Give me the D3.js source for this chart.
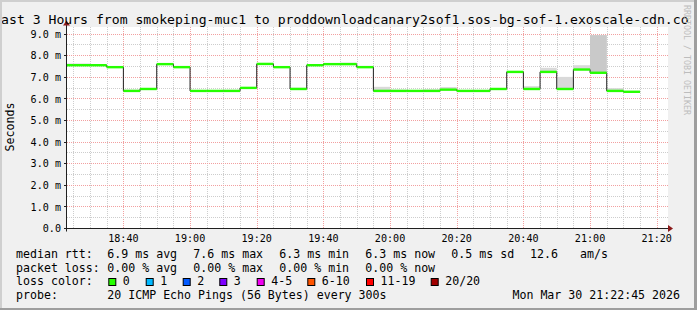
<!DOCTYPE html>
<html>
<head>
<meta charset="utf-8">
<script src="https://cdn.jsdelivr.net/npm/d3@7"></script>
<style>
  html, body { margin: 0; padding: 0; background: #f0f0f0; }
  svg { display: block; }
  text { font-family: "DejaVu Sans Mono", monospace; }
</style>
</head>
<body>
<svg id="chart"></svg>
<script>
// interval end times (5 min steps), median rtt in ms, smoke bands in ms
var endTimes = ["18:25","18:30","18:35","18:40","18:45","18:50","18:55","19:00",
    "19:05","19:10","19:15","19:20","19:25","19:30","19:35","19:40","19:45","19:50",
    "19:55","20:00","20:05","20:10","20:15","20:20","20:25","20:30","20:35","20:40",
    "20:45","20:50","20:55","21:00","21:05","21:10","21:15"];
var median = [7.56,7.56,7.56,7.47,6.37,6.46,7.61,7.47,6.37,6.37,6.37,6.51,7.62,7.47,
    6.46,7.56,7.61,7.61,7.47,6.37,6.37,6.37,6.37,6.43,6.37,6.37,6.46,7.25,6.46,7.25,
    6.46,7.36,7.21,6.37,6.33];
var smokeHi = [7.64,7.64,7.56,7.47,6.43,6.46,7.61,7.53,6.37,6.37,6.42,6.51,7.62,7.47,
    6.52,7.56,7.61,7.68,7.53,6.56,6.43,6.37,6.44,6.55,6.37,6.37,6.46,7.25,6.59,7.44,
    7.02,7.56,8.95,6.50,6.33];
var smokeMid = [7.56,7.56,7.56,7.47,6.37,6.46,7.61,7.47,6.37,6.37,6.37,6.51,7.62,7.47,
    6.46,7.56,7.61,7.61,7.47,6.37,6.37,6.37,6.37,6.43,6.37,6.37,6.46,7.25,6.46,7.25,
    6.46,7.36,8.95,6.37,6.33];

var yTicks = [0,1,2,3,4,5,6,7,8,9];
var yTickLabels = ["0.0","1.0 m","2.0 m","3.0 m","4.0 m","5.0 m","6.0 m","7.0 m","8.0 m","9.0 m"];
var xTickLabels = ["18:40","19:00","19:20","19:40","20:00","20:20","20:40","21:00","21:20"];

var title = "Last 3 Hours from smokeping-muc1 to proddownloadcanary2sof1.sos-bg-sof-1.exoscale-cdn.com";
var rttStats = ["6.9 ms avg","7.6 ms max","6.3 ms min","6.3 ms now","0.5 ms sd","12.6","am/s"];
var lossStats = ["0.00 % avg","0.00 % max","0.00 % min","0.00 % now"];
var lossLabels = ["0","1","2","3","4-5","6-10","11-19","20/20"];
var lossColors = ["#26ff00","#00b8ff","#0059ff","#7e00ff","#f000f0","#ff5500","#ff0000","#a10000"];
var probeText = "20 ICMP Echo Pings (56 Bytes) every 300s";
var stamp = "Mon Mar 30 21:22:45 2026";

var W = 697, H = 310,
    pLeft = 67, pRight = 667, pTop = 28.5, pBottom = 228.5;

var parse = d3.timeParse("%Y-%m-%d %H:%M:%S"),
    hm = (s) => parse("2026-03-30 " + s + ":00");

var x = d3.scaleTime()
    .domain([parse("2026-03-30 18:23:05"), parse("2026-03-30 21:23:05")])
    .range([pLeft, pRight]);
var y = d3.scaleLinear().domain([0, 9.26]).range([pBottom, pTop]);

var svg = d3.select("#chart").attr("width", W).attr("height", H);
var defs = svg.append("defs");

// background
svg.append("rect").attr("width", W).attr("height", H).attr("fill", "#f0f0f0");

// canvas
svg.append("rect")
    .attr("x", pLeft).attr("y", pTop - 1.5)
    .attr("width", pRight - pLeft + 1).attr("height", pBottom - pTop + 1.5)
    .attr("fill", "#ffffff");

defs.append("clipPath").attr("id", "plot")
    .append("rect").attr("x", pLeft).attr("y", pTop - 2)
    .attr("width", pRight - pLeft + 1).attr("height", pBottom - pTop + 2);
defs.append("clipPath").attr("id", "titleclip")
    .append("rect").attr("x", 0).attr("y", 0).attr("width", 689).attr("height", 30);

// grid
var grid = svg.append("g").attr("stroke-dasharray", "1,1").attr("stroke-width", 1);
var minorX = d3.timeMinute.every(5).range(x.domain()[0], x.domain()[1]);
grid.selectAll("line.vx")
    .data(minorX)
    .enter().append("line")
    .attr("x1", (d) => Math.round(x(d)) + 0.5)
    .attr("x2", (d) => Math.round(x(d)) + 0.5)
    .attr("y1", pTop - 1.5).attr("y2", pBottom)
    .attr("stroke", (d) => d.getMinutes() % 20 == 0 ? "#f2a0a0" : "#cdcdcd");
var minorY = d3.range(1, 19).map((d) => d / 2);
grid.selectAll("line.hy")
    .data(minorY)
    .enter().append("line")
    .attr("x1", pLeft).attr("x2", pRight + 1)
    .attr("y1", (d) => Math.round(y(d) - 0.5) + 0.5)
    .attr("y2", (d) => Math.round(y(d) - 0.5) + 0.5)
    .attr("stroke", (d) => d % 1 == 0 ? "#f2a0a0" : "#cdcdcd");

// smoke
var plot = svg.append("g").attr("clip-path", "url(#plot)");
var ivals = endTimes.map((t, i) => {
    let e = hm(t);
    return { s: d3.timeMinute.offset(e, -5), e: e, med: median[i], hi: smokeHi[i], mid: smokeMid[i] };
});
plot.selectAll("rect.light")
    .data(ivals.filter((d) => d.hi > d.med))
    .enter().append("rect")
    .attr("x", (d) => x(d.s)).attr("width", (d) => x(d.e) - x(d.s))
    .attr("y", (d) => y(d.hi)).attr("height", (d) => y(d.med) - y(d.hi))
    .attr("fill", "#d9d9d9");
plot.selectAll("rect.dark")
    .data(ivals.filter((d) => d.mid > d.med))
    .enter().append("rect")
    .attr("x", (d) => x(d.s)).attr("width", (d) => x(d.e) - x(d.s))
    .attr("y", (d) => y(d.mid)).attr("height", (d) => y(d.med) - y(d.mid))
    .attr("fill", "#c9c9c9");

// median line (dark steps + loss coloured bars)
var pts = [{ t: ivals[0].s, v: median[0] }].concat(ivals.map((d) => ({ t: d.e, v: d.med })));
var line = d3.line()
    .curve(d3.curveStepBefore)
    .x((d) => x(d.t))
    .y((d) => y(d.v));
plot.append("path")
    .attr("d", line(pts))
    .attr("fill", "none")
    .attr("stroke", "#202020")
    .attr("stroke-width", 1);
plot.selectAll("rect.med")
    .data(ivals)
    .enter().append("rect")
    .attr("x", (d) => x(d.s)).attr("width", (d) => x(d.e) - x(d.s))
    .attr("y", (d) => y(d.med) - 1.2).attr("height", 2.4)
    .attr("fill", lossColors[0]);

// axes
svg.append("line").attr("x1", pLeft - 3).attr("x2", pRight + 3)
    .attr("y1", pBottom).attr("y2", pBottom).attr("stroke", "#202020");
svg.append("line").attr("x1", pLeft - 0.5).attr("x2", pLeft - 0.5)
    .attr("y1", pBottom + 3).attr("y2", pTop - 4).attr("stroke", "#202020");
svg.append("path").attr("d", `M${pRight + 1},${pBottom - 3.5}L${pRight + 6},${pBottom}L${pRight + 1},${pBottom + 3.5}Z`)
    .attr("fill", "#8b1a1a");
svg.append("path").attr("d", `M${pLeft - 4},${pTop - 3}L${pLeft - 0.5},${pTop - 8}L${pLeft + 3},${pTop - 3}Z`)
    .attr("fill", "#8b1a1a");

var yAxis = svg.append("g");
yAxis.selectAll("line")
    .data(yTicks.slice(1))
    .enter().append("line")
    .attr("x1", pLeft - 3).attr("x2", pLeft)
    .attr("y1", (d) => Math.round(y(d) - 0.5) + 0.5)
    .attr("y2", (d) => Math.round(y(d) - 0.5) + 0.5)
    .attr("stroke", "#202020");
yAxis.selectAll("text")
    .data(yTicks)
    .enter().append("text")
    .attr("x", 61)
    .attr("y", (d) => y(d) + 3.6)
    .attr("text-anchor", "end")
    .attr("font-size", "10.1px")
    .attr("fill", "#000")
    .text((d, i) => yTickLabels[i]);

var xAxis = svg.append("g");
xAxis.selectAll("text")
    .data(xTickLabels)
    .enter().append("text")
    .attr("x", (d) => x(hm(d)))
    .attr("y", 241.5)
    .attr("text-anchor", "middle")
    .attr("font-size", "10.1px")
    .attr("fill", "#000")
    .text((d) => d);

// title (wider than the image, clipped like the original), unit, watermark
svg.append("g").attr("clip-path", "url(#titleclip)")
    .append("text")
    .attr("x", -6.8).attr("y", 24)
    .attr("font-size", "13.14px")
    .text(title);
svg.append("text")
    .attr("transform", "translate(14,127) rotate(-90)")
    .attr("text-anchor", "middle")
    .attr("font-size", "11.6px")
    .text("Seconds");
svg.append("text")
    .attr("transform", "translate(684,5) rotate(90)")
    .attr("font-size", "8.3px")
    .attr("fill", "#bdbdbd")
    .text("RRDTOOL / TOBI OETIKER");

// legend
var leg = svg.append("g").attr("font-size", "11.6px").attr("fill", "#000");
var rows = [258, 271.6, 285.2, 298.8],
    colX = [107.3, 193.3, 279.3, 365.3, 451.3, 530, 580];

leg.append("text").attr("x", 16).attr("y", rows[0]).text("median rtt:");
leg.selectAll("text.rtt")
    .data(rttStats)
    .enter().append("text")
    .attr("x", (d, i) => colX[i]).attr("y", rows[0])
    .text((d) => d);

leg.append("text").attr("x", 16).attr("y", rows[1]).text("packet loss:");
leg.selectAll("text.loss")
    .data(lossStats)
    .enter().append("text")
    .attr("x", (d, i) => colX[i]).attr("y", rows[1])
    .text((d) => d);

leg.append("text").attr("x", 16).attr("y", rows[2]).text("loss color:");
var boxX = [108.3, 145.7, 182.7, 219.3, 256.7, 307.3, 366, 430.7];
var items = leg.selectAll("g.item")
    .data(lossLabels)
    .enter().append("g")
    .attr("transform", (d, i) => `translate(${boxX[i]},0)`);
items.append("rect")
    .attr("x", 0.5).attr("y", 278.5)
    .attr("width", 7).attr("height", 7)
    .attr("fill", (d, i) => lossColors[i])
    .attr("stroke", "#000").attr("stroke-width", 1);
items.append("text")
    .attr("x", 14.5).attr("y", rows[2])
    .text((d) => d);

leg.append("text").attr("x", 16).attr("y", rows[3]).text("probe:");
leg.append("text").attr("x", colX[0]).attr("y", rows[3]).text(probeText);
leg.append("text").attr("x", 680).attr("y", rows[3]).attr("text-anchor", "end").text(stamp);

// 3d frame on top
svg.append("rect").attr("x", 0).attr("y", 0).attr("width", W).attr("height", 2).attr("fill", "#cfcfcf");
svg.append("rect").attr("x", 0).attr("y", 0).attr("width", 2).attr("height", H).attr("fill", "#cfcfcf");
svg.append("rect").attr("x", 0).attr("y", H - 2).attr("width", W).attr("height", 2).attr("fill", "#9e9e9e");
svg.append("rect").attr("x", W - 3).attr("y", 0).attr("width", 3).attr("height", H).attr("fill", "#9e9e9e");
</script>
</body>
</html>
